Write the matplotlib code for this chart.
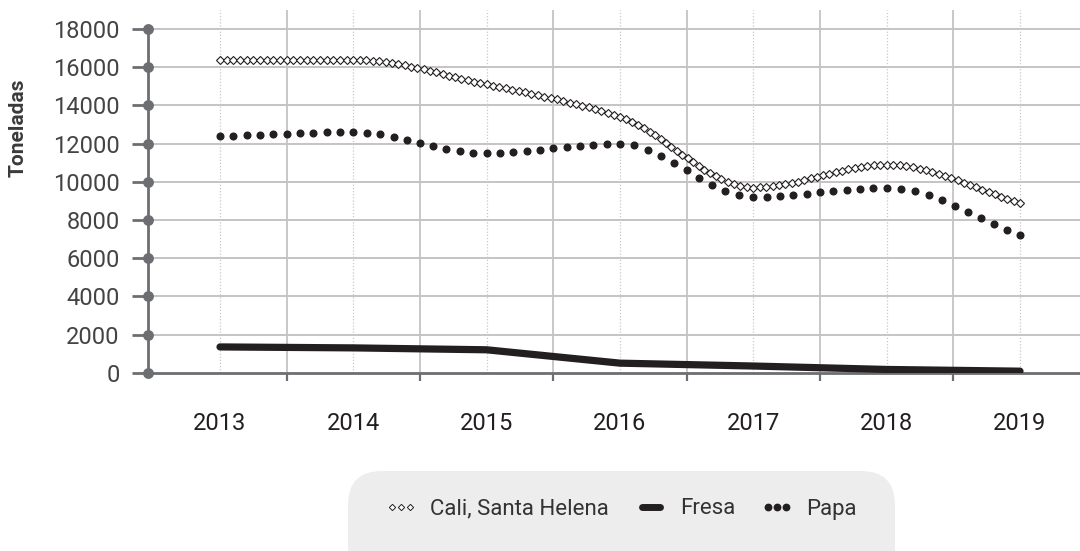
import matplotlib
matplotlib.use('Agg')
import matplotlib.pyplot as plt
import matplotlib.transforms as mtransforms
from matplotlib.patches import FancyBboxPatch
from matplotlib.lines import Line2D
import numpy as np

years = ['2013', '2014', '2015', '2016', '2017', '2018', '2019']
cali = [16400, 16400, 15100, 13400, 9700, 10900, 8900]
fresa = [1350, 1300, 1200, 500, 350, 170, 80]
papa = [12400, 12600, 11500, 12000, 9200, 9700, 7200]
yticks = [0, 2000, 4000, 6000, 8000, 10000, 12000, 14000, 16000, 18000]

DARK = '#231f20'
GREY = '#6d6e71'
plt.rcParams['font.family'] = ['Roboto', 'DejaVu Sans']


def pchip_slopes(x, y):
    h = np.diff(x)
    d = np.diff(y) / h
    m = np.zeros(len(x))
    m[0], m[-1] = d[0], d[-1]
    for k in range(1, len(x) - 1):
        if d[k - 1] * d[k] <= 0:
            m[k] = 0
        else:
            w1 = 2 * h[k] + h[k - 1]
            w2 = h[k] + 2 * h[k - 1]
            m[k] = (w1 + w2) / (w1 / d[k - 1] + w2 / d[k])
    return m


def marker_path(ax, vals, spacing):
    """ smooth curve through the values, sampled every `spacing` pixels """
    x = np.arange(len(vals), dtype=float)
    y = np.asarray(vals, dtype=float)
    m = pchip_slopes(x, y)
    px, py = [], []
    for k in range(len(x) - 1):
        t = np.linspace(0, 1, 300)
        h00 = 2 * t**3 - 3 * t**2 + 1
        h10 = t**3 - 2 * t**2 + t
        h01 = -2 * t**3 + 3 * t**2
        h11 = t**3 - t**2
        sx = x[k] + t
        sy = h00 * y[k] + h10 * m[k] + h01 * y[k + 1] + h11 * m[k + 1]
        disp = ax.transData.transform(np.column_stack([sx, sy]))
        seg = np.hypot(np.diff(disp[:, 0]), np.diff(disp[:, 1]))
        arc = np.concatenate([[0], np.cumsum(seg)])
        n = max(1, int(round(arc[-1] / spacing)))
        s = np.linspace(0, arc[-1], n + 1)
        if k > 0:
            s = s[1:]
        px.extend(np.interp(s, arc, sx))
        py.extend(np.interp(s, arc, sy))
    return np.array(px), np.array(py)


fig = plt.figure(figsize=(10.8, 5.51), dpi=100)
ax = fig.add_axes([148 / 1080, (551 - 372.7) / 551, (1080 - 148) / 1080, (372.7 - 10) / 551])
ax.set_xlim(-0.54, 6.45)
ax.set_ylim(0, 19000)

for s in ['top', 'right']:
    ax.spines[s].set_visible(False)
ax.spines['left'].set_bounds(0, 18000)
ax.spines['left'].set_color(GREY)
ax.spines['left'].set_linewidth(2)
ax.spines['bottom'].set_color(GREY)
ax.spines['bottom'].set_linewidth(2)

# y axis
ax.set_yticks(yticks)
ax.set_yticklabels([str(v) for v in yticks])
ax.tick_params(axis='y', direction='out', length=11.5, width=2, color=GREY,
               labelsize=17, labelcolor='#444444', pad=9)
ax.plot(np.zeros(len(yticks)), yticks, 'o', ms=6.8, color=GREY,
        transform=ax.get_yaxis_transform(), clip_on=False, zorder=5)
for v in yticks[1:]:
    ax.axhline(v, color='#c4c4c4', lw=1.4, zorder=0)

# x axis: labels at the years, ticks between them
xpos = np.arange(len(years))
ax.set_xticks(xpos[:-1] + 0.5)
ax.set_xticklabels([])
ax.set_xticks(xpos, minor=True)
ax.set_xticklabels(years, minor=True)
ax.tick_params(axis='x', which='major', direction='out', length=5.5, width=1.6, color=GREY)
ax.tick_params(axis='x', which='minor', length=0, labelsize=17, labelcolor=DARK, pad=28)
for xp in xpos[:-1] + 0.5:
    ax.axvline(xp, color='#c4c4c4', lw=1.3, zorder=0)
for xp in xpos:
    ax.axvline(xp, color='#c8c8c8', lw=0.9, ls=(0, (1, 1.5)), zorder=0)

fig.text(18 / 1080, 1 - 128 / 551, 'Toneladas', rotation=90, ha='center', va='center',
         fontsize=15, fontweight='bold', color='#3a3a3a')

# series
ax.plot(xpos, fresa, color=DARK, lw=5.2, solid_capstyle='round', solid_joinstyle='round', zorder=3)
px, py = marker_path(ax, papa, 14)
ax.plot(px, py, 'o', ms=4.8, color=DARK, zorder=4)
cx, cy = marker_path(ax, cali, 6.6)
ax.plot(cx, cy, 'D', ms=4.2, mfc='white', mec=DARK, mew=0.8, zorder=4)

# legend
box = FancyBboxPatch((348, -40), 547, 120, boxstyle='round,pad=0,rounding_size=34',
                     transform=mtransforms.IdentityTransform(), fc='#ededed', ec='none')
fig.patches.append(box)
handles = [
    Line2D([], [], ls='none', marker='D', ms=3.2, mfc='white', mec=DARK, mew=0.7),
    Line2D([], [], color=DARK, lw=5, solid_capstyle='round'),
    Line2D([], [], ls='none', marker='o', ms=4.6, color=DARK),
]
fig.legend(handles, ['Cali, Santa Helena', 'Fresa', 'Papa'], loc='center',
           bbox_to_anchor=(621 / 1080, 1 - 509 / 551), ncol=3, frameon=False,
           prop={'size': 16}, numpoints=3, handlelength=1.4,
           handletextpad=0.6, columnspacing=1.2, labelcolor='#333333')

fig.savefig('out.png', dpi=100)
